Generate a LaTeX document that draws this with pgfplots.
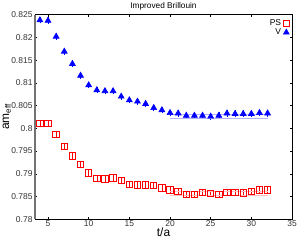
\documentclass[border=0pt]{standalone}
\usepackage{pgfplots}
\pgfplotsset{compat=1.18}
\usepackage{fontspec}
\setmainfont{Liberation Sans}
\begin{document}
\begin{tikzpicture}[x=1bp,y=1bp]
\begin{axis}[
  at={(0,0)}, anchor=south west,
  scale only axis, width=257bp, height=204.5bp,
  xmin=3.4, xmax=35, ymin=0.78, ymax=0.825,
  xtick={5,10,15,20,25,30,35},
  ytick={0.78,0.785,0.79,0.795,0.8,0.805,0.81,0.815,0.82,0.825},
  yticklabels={0.78,0.785,0.79,0.795,0.8,0.805,0.81,0.815,0.82,0.825},
  xticklabels={5,10,15,20,25,30,35},
  tick align=inside, major tick length=2.5bp,
  tick style={black, line width=0.5pt},
  axis line style={black, line width=0.8pt},
  ticklabel style={font=\fontsize{8.5}{9}\selectfont, text=black!80},
  xticklabel style={yshift=2.5bp},
  yticklabel style={xshift=1bp},
  /pgf/number format/assume math mode=true,
  xlabel={t/a}, ylabel={am$_{\mathrm{eff}}$},
  xlabel style={font=\fontsize{12}{13}\selectfont, at={(axis description cs:0.5,-0.062)}, anchor=center},
  ylabel style={font=\fontsize{12}{13}\selectfont, at={(axis description cs:-0.11,0.5)}, anchor=center},
  title={Improved Brillouin},
  title style={font=\fontsize{8.3}{9}\selectfont, yshift=-5.5bp},
  legend style={draw=none, fill=none, at={(0.995,0.99)}, anchor=north east,
    font=\fontsize{8.5}{9}\selectfont, row sep=-2.5bp, inner sep=1bp},
  legend cell align=right, legend plot pos=right,
  clip=false,
]
\addplot[red, only marks, mark=square, mark size=3.2bp, mark options={line width=0.9pt, fill=red!15},
  error bars/.cd, y dir=both, y explicit, error mark=-, error mark options={mark size=1.5bp, line width=0.6pt},
  error bar style={line width=0.6pt}]
coordinates {
(4,0.8011) +- (0,0.0003)
(5,0.8011) +- (0,0.0003)
(6,0.7987) +- (0,0.0003)
(7,0.7960) +- (0,0.0003)
(8,0.7939) +- (0,0.0003)
(9,0.7921) +- (0,0.0003)
(10,0.7902) +- (0,0.0003)
(11,0.7890) +- (0,0.0003)
(12,0.7889) +- (0,0.0003)
(13,0.7891) +- (0,0.0003)
(14,0.7885) +- (0,0.0003)
(15,0.7877) +- (0,0.0003)
(16,0.7875) +- (0,0.0003)
(17,0.7875) +- (0,0.0003)
(18,0.7874) +- (0,0.0003)
(19,0.7869) +- (0,0.0003)
(20,0.7864) +- (0,0.0003)
(21,0.7861) +- (0,0.0003)
(22,0.7855) +- (0,0.0003)
(23,0.7855) +- (0,0.0003)
(24,0.7859) +- (0,0.0003)
(25,0.7857) +- (0,0.0003)
(26,0.7855) +- (0,0.0003)
(27,0.7859) +- (0,0.0003)
(28,0.7859) +- (0,0.0003)
(29,0.7858) +- (0,0.0003)
(30,0.7861) +- (0,0.0003)
(31,0.7864) +- (0,0.0003)
(32,0.7864) +- (0,0.0003)
};
\addlegendentry{PS}
\addplot[blue, only marks, mark=triangle*, mark size=3.4bp, mark options={line width=0.6pt, fill=blue},
  error bars/.cd, y dir=both, y explicit, error mark=-, error mark options={mark size=1.5bp, line width=0.6pt},
  error bar style={line width=0.6pt}]
coordinates {
(4,0.8238) +- (0,0.0004)
(5,0.8237) +- (0,0.0004)
(6,0.8202) +- (0,0.0004)
(7,0.8169) +- (0,0.0004)
(8,0.8142) +- (0,0.0004)
(9,0.8116) +- (0,0.0004)
(10,0.8095) +- (0,0.0004)
(11,0.8084) +- (0,0.0004)
(12,0.8082) +- (0,0.0004)
(13,0.8082) +- (0,0.0004)
(14,0.8070) +- (0,0.0004)
(15,0.8062) +- (0,0.0004)
(16,0.8059) +- (0,0.0004)
(17,0.8054) +- (0,0.0004)
(18,0.8045) +- (0,0.0004)
(19,0.8040) +- (0,0.0004)
(20,0.8034) +- (0,0.0004)
(21,0.8033) +- (0,0.0004)
(22,0.8028) +- (0,0.0004)
(23,0.8028) +- (0,0.0004)
(24,0.8028) +- (0,0.0004)
(25,0.8026) +- (0,0.0004)
(26,0.8028) +- (0,0.0004)
(27,0.8033) +- (0,0.0004)
(28,0.8032) +- (0,0.0004)
(29,0.8032) +- (0,0.0004)
(30,0.8032) +- (0,0.0004)
(31,0.8034) +- (0,0.0004)
(32,0.8033) +- (0,0.0004)
};
\addlegendentry{V}
% fit bands
\addplot[blue!30, line width=0.6pt, forget plot] coordinates {(20,0.80315) (32,0.80315)};
\addplot[blue!30, line width=0.6pt, forget plot] coordinates {(20,0.80215) (32,0.80215)};
\addplot[red!25, line width=0.6pt, forget plot] coordinates {(20,0.7862) (32,0.7862)};
\addplot[red!25, line width=0.6pt, forget plot] coordinates {(20,0.7853) (32,0.7853)};
\draw[black!55, line width=1.6pt] (rel axis cs:0,0) -- (rel axis cs:0,1);
\end{axis}
\pgfresetboundingbox
\path[use as bounding box] (-35,-21) rectangle (265,219.2);
\end{tikzpicture}
\end{document}
